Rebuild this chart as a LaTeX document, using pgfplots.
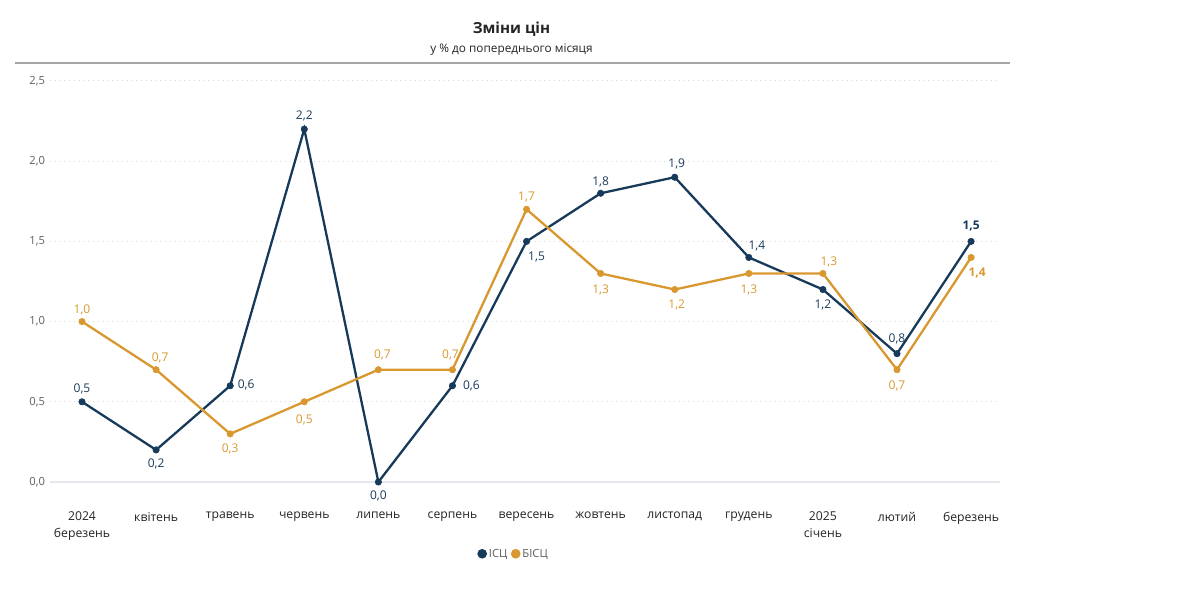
\documentclass[border=0pt]{standalone}
\usepackage{pgfplots}
\pgfplotsset{compat=1.18}
\usepackage{pgfplotstable}
\usepackage{fontspec}
\setmainfont{Open Sans}
\definecolor{navy}{HTML}{183A5A}
\definecolor{orng}{HTML}{D9982F}
\definecolor{tickgray}{HTML}{605E5C}
\definecolor{labdark}{HTML}{252423}
\definecolor{gridc}{HTML}{D6D6D6}
\definecolor{zeroc}{HTML}{E4E8EC}
\pgfkeys{/pgf/number format/.cd, use comma, fixed, fixed zerofill, precision=1, assume math mode=true}

\pgfplotstableread{
x y dx dy w
0 0.5 0 6.5 0
1 0.2 0 -7 0
2 0.6 8 0.5 0
3 2.2 0 6.5 0
4 0.0 0 -6.8 0
5 0.6 9.5 0 0
6 1.5 5 -8 0
7 1.8 0 5.5 0
8 1.9 1 6.5 0
9 1.4 4 5.5 0
10 1.2 0 -7.5 0
11 0.8 0 7.5 0
12 1.5 0 7.5 1
}\isc

\pgfplotstableread{
x y dx dy w
0 1.0 0 6 0
1 0.7 2 6 0
2 0.3 0 -7.5 0
3 0.5 0 -9 0
4 0.7 2 7.5 0
5 0.7 -1 7.5 0
6 1.7 0 6 0
7 1.3 0 -8 0
8 1.2 1 -7.5 0
9 1.3 0 -8 0
10 1.3 3 6 0
11 0.7 0 -8 0
12 1.4 3 -8 1
}\bisc

\begin{document}
\begin{tikzpicture}
\path[use as bounding box] (0,0) rectangle (592.5pt,298.5pt);
\node[font=\fontsize{7.6}{9}\selectfont\bfseries, text=labdark] at (255.75pt,284pt) {Зміни цін};
\node[font=\fontsize{5.9}{7}\selectfont, text=labdark] at (255.75pt,273.5pt) {у \% до попереднього місяця};
\draw[color=black!35, line width=1pt] (7.5pt,267pt) -- (505pt,267pt);
\begin{axis}[
  at={(25pt,57.5pt)}, anchor=south west,
  scale only axis, width=475pt, height=200.5pt,
  xmin=-0.432, xmax=12.39, ymin=0, ymax=2.5,
  clip=false,
  axis line style={draw=none},
  major tick length=0pt,
  xtick={0,...,12},
  xticklabels={{2024\\березень},квітень,травень,червень,липень,серпень,вересень,жовтень,листопад,грудень,{2025\\січень},лютий,березень},
  xticklabel style={align=center, font=\fontsize{6.1}{8.5}\selectfont, text=labdark, yshift=-11.5pt},
  ytick={0,0.5,...,2.5},
  yticklabel style={font=\fontsize{5.6}{7}\selectfont, text=tickgray, xshift=1pt},
  ymajorgrids,
  major grid style={gridc, dotted, line width=0.5pt},
  extra y ticks={0}, extra y tick labels={},
  extra y tick style={major grid style={zeroc, solid, line width=1pt}},
  legend style={at={(0.488,-0.183)}, anchor=center, draw=none, fill=none, legend columns=-1,
    font=\fontsize{5.6}{7}\selectfont, text=tickgray, inner sep=0pt,
    nodes={inner sep=1pt},
    /tikz/every even column/.append style={column sep=0.8pt}},
  legend image code/.code={\fill[#1] (0pt,0.8pt) circle (1.8pt);},
  legend cell align=left,
]
\addplot[navy, line width=1.15pt, mark=*, mark size=1.6pt, mark options={line width=0.3pt},
  point meta=explicit,
  visualization depends on={\thisrow{dx}\as\dx},
  visualization depends on={\thisrow{dy}\as\dy},
  visualization depends on={\thisrow{w}\as\wb},
  nodes near coords={\ifdim\wb pt>0.5pt\bfseries\fi\pgfmathprintnumber{\pgfplotspointmeta}},
  nodes near coords style={anchor=center, xshift=\dx pt, yshift=\dy pt, text=navy, font=\fontsize{6}{7}\selectfont, inner sep=0pt},
] table[x=x, y=y, meta=y] {\isc};
\addlegendentry{ІСЦ}
\addplot[orng, line width=1.15pt, mark=*, mark size=1.6pt, mark options={line width=0.3pt},
  point meta=explicit,
  visualization depends on={\thisrow{dx}\as\dx},
  visualization depends on={\thisrow{dy}\as\dy},
  visualization depends on={\thisrow{w}\as\wb},
  nodes near coords={\ifdim\wb pt>0.5pt\bfseries\fi\pgfmathprintnumber{\pgfplotspointmeta}},
  nodes near coords style={anchor=center, xshift=\dx pt, yshift=\dy pt, text=orng, font=\fontsize{6}{7}\selectfont, inner sep=0pt},
] table[x=x, y=y, meta=y] {\bisc};
\addlegendentry{БІСЦ}
\end{axis}
\end{tikzpicture}
\end{document}
